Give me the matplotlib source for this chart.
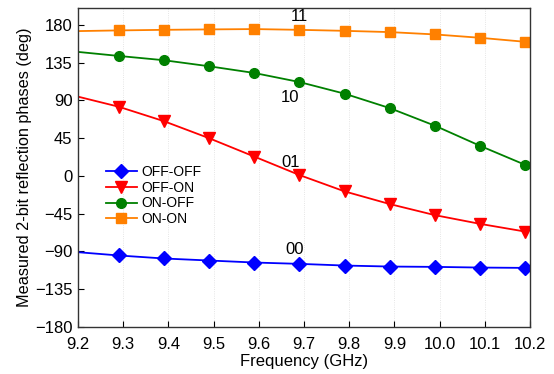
import numpy as np
import matplotlib.pyplot as plt

plt.rcParams['font.family'] = ['Liberation Sans', 'DejaVu Sans']

# frequency points (GHz); first point has no marker
freq = [9.2, 9.29, 9.39, 9.49, 9.59, 9.69, 9.79, 9.89, 9.99, 10.09, 10.19]

off_off = [-90.9, -94.8, -98.4, -100.8, -103.2, -104.8, -106.8, -108.0, -108.4, -109.2, -109.6]
off_on = [94.4, 82.4, 65.2, 44.9, 23.0, 1.0, -18.5, -33.6, -46.8, -57.2, -66.4]
on_off = [147.7, 142.9, 137.8, 130.6, 122.6, 111.8, 97.9, 80.7, 59.7, 35.7, 13.0]
on_on = [172.5, 173.3, 174.0, 174.5, 174.9, 174.0, 172.8, 171.3, 168.5, 164.5, 159.7]

xticks = [9.2, 9.3, 9.4, 9.5, 9.6, 9.7, 9.8, 9.9, 10.0, 10.1, 10.2]
yticks = [-180, -135, -90, -45, 0, 45, 90, 135, 180]

fig = plt.figure(figsize=(5.54, 3.74), dpi=100)
ax = fig.add_axes([0.1408, 0.1257, 0.8159, 0.8529])

mk = list(range(1, len(freq)))
ax.plot(freq, off_off, color='#0000ff', marker='D', ms=7, lw=1.3, markevery=mk, label='OFF-OFF')
ax.plot(freq, off_on, color='#ff0000', marker='v', ms=8, lw=1.3, markevery=mk, label='OFF-ON')
ax.plot(freq, on_off, color='#008000', marker='o', ms=7, lw=1.3, markevery=mk, label='ON-OFF')
ax.plot(freq, on_on, color='#ff8000', marker='s', ms=6.5, lw=1.3, markevery=mk, label='ON-ON')

ax.text(9.69, 190, '11', fontsize=12, ha='center', va='center')
ax.text(9.67, 93, '10', fontsize=12, ha='center', va='center')
ax.text(9.67, 16, '01', fontsize=12, ha='center', va='center')
ax.text(9.68, -88, '00', fontsize=12, ha='center', va='center')

ax.set_xlim(9.2, 10.2)
ax.set_ylim(-180, 200)
ax.set_xticks(xticks)
ax.set_xticklabels(['%.1f' % v for v in xticks])
ax.set_yticks(yticks)
ax.tick_params(direction='in', labelsize=12, length=4)
ax.tick_params(axis='x', pad=7)
ax.tick_params(axis='y', pad=4)
ax.xaxis.grid(True, color='#dddddd', lw=0.6, ls=':')
for s in ax.spines.values():
    s.set_color('#333333')
    s.set_linewidth(1.0)

ax.set_xlabel('Frequency (GHz)', fontsize=12, labelpad=2)
ax.set_ylabel('Measured 2-bit reflection phases (deg)', fontsize=11.7, labelpad=2)

ax.legend(loc='upper left', bbox_to_anchor=(0.05, 0.525), frameon=False, fontsize=10,
          handlelength=2.2, labelspacing=0.12, handletextpad=0.3, borderaxespad=0)

fig.savefig('out.png', dpi=100)
